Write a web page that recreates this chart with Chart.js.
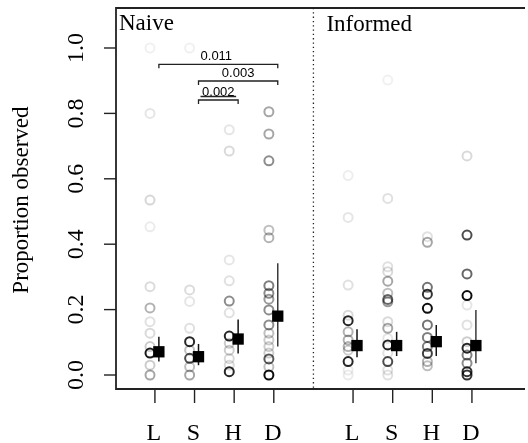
<!DOCTYPE html>
<html>
<head>
<meta charset="utf-8">
<script src="https://cdn.jsdelivr.net/npm/chart.js@4.4.1/dist/chart.umd.min.js"></script>
<style>
  html, body { margin: 0; padding: 0; background: #ffffff; }
  #wrap { width: 528px; height: 443px; position: relative; }
</style>
</head>
<body>
<div id="wrap"><canvas id="c" width="528" height="443"></canvas></div>
<script>
// ---------- data ----------
const categories = ['L', 'S', 'H', 'D', 'L', 'S', 'H', 'D'];
const catPositions = [1, 2, 3, 4, 6, 7, 8, 9];
const panelLabels = ['Naive', 'Informed'];
const yTicks = [0, 0.2, 0.4, 0.6, 0.8, 1.0];
const yTickLabels = ['0.0', '0.2', '0.4', '0.6', '0.8', '1.0'];
const yTitle = 'Proportion observed';

// individual proportions per group
const naiveL = [1.0, 0.80, 0.535, 0.453, 0.27, 0.205, 0.163, 0.128, 0.087, 0.067, 0.03, 0.0];
const naiveS = [1.0, 0.26, 0.225, 0.143, 0.102, 0.076, 0.051, 0.025, 0.0];
const naiveH = [0.75, 0.685, 0.352, 0.288, 0.226, 0.19, 0.119, 0.097, 0.076, 0.05, 0.03, 0.01];
const naiveD = [0.805, 0.737, 0.655, 0.443, 0.42, 0.273, 0.25, 0.232, 0.199, 0.153, 0.128, 0.107, 0.087, 0.067, 0.049, 0.025, 0.0];
const informedL = [0.61, 0.482, 0.275, 0.183, 0.166, 0.132, 0.107, 0.087, 0.076, 0.041, 0.015, 0.0];
const informedS = [0.902, 0.54, 0.331, 0.316, 0.287, 0.25, 0.231, 0.224, 0.163, 0.143, 0.112, 0.092, 0.067, 0.041, 0.015, 0.0];
const informedH = [0.423, 0.406, 0.268, 0.247, 0.204, 0.153, 0.115, 0.087, 0.066, 0.041, 0.028];
const informedD = [0.67, 0.428, 0.309, 0.243, 0.214, 0.153, 0.102, 0.082, 0.061, 0.036, 0.01, 0.0];

// relative weight of each individual (drives the grey shade of its circle)
const naiveL_w = [0.06, 0.1, 0.16, 0.08, 0.14, 0.3, 0.12, 0.15, 0.2, 0.9, 0.2, 0.35];
const naiveS_w = [0.06, 0.14, 0.1, 0.12, 0.85, 0.25, 0.7, 0.25, 0.35];
const naiveH_w = [0.1, 0.15, 0.1, 0.12, 0.45, 0.12, 0.85, 0.2, 0.2, 0.15, 0.15, 0.85];
const naiveD_w = [0.35, 0.35, 0.45, 0.25, 0.3, 0.5, 0.45, 0.4, 0.45, 0.45, 0.25, 0.2, 0.2, 0.2, 0.65, 0.25, 0.95];
const informedL_w = [0.07, 0.1, 0.12, 0.15, 0.85, 0.3, 0.3, 0.3, 0.2, 0.85, 0.08, 0.08];
const informedS_w = [0.06, 0.12, 0.12, 0.15, 0.35, 0.25, 0.6, 0.4, 0.15, 0.35, 0.1, 0.85, 0.12, 0.7, 0.12, 0.12];
const informedH_w = [0.12, 0.35, 0.55, 0.8, 0.95, 0.55, 0.5, 0.5, 0.75, 0.3, 0.25];
const informedD_w = [0.15, 0.7, 0.6, 0.95, 0.1, 0.12, 0.2, 0.85, 0.5, 0.45, 0.8, 0.8];

// group estimates with confidence intervals
const means = [0.071, 0.056, 0.11, 0.18, 0.09, 0.09, 0.102, 0.09];
const ciLow = [0.041, 0.03, 0.066, 0.087, 0.054, 0.058, 0.058, 0.036];
const ciHigh = [0.117, 0.095, 0.17, 0.342, 0.14, 0.132, 0.153, 0.199];

// pairwise comparisons (group indices into categories)
const compFrom = [0, 1, 1];
const compTo = [3, 3, 2];
const compLevel = [0.950, 0.899, 0.841];
const compLabel = ['0.011', '0.003', '0.002'];

// ---------- build datasets ----------
const groups = [naiveL, naiveS, naiveH, naiveD, informedL, informedS, informedH, informedD];
const groupW = [naiveL_w, naiveS_w, naiveH_w, naiveD_w, informedL_w, informedS_w, informedH_w, informedD_w];
const CIRCLE_DX = -0.124;
const MEAN_DX = 0.1;

const datasets = [];
// means (on top)
datasets.push({
  data: means.map((m, i) => ({ x: catPositions[i] + MEAN_DX, y: m })),
  pointStyle: 'rect',
  pointRadius: 8,
  backgroundColor: '#000',
  borderColor: '#000',
  borderWidth: 0,
  showLine: false,
  order: 0
});
// error bars
means.forEach((m, i) => {
  datasets.push({
    data: [{ x: catPositions[i] + MEAN_DX, y: ciLow[i] }, { x: catPositions[i] + MEAN_DX, y: ciHigh[i] }],
    showLine: true,
    borderColor: (i === 3 || i === 7) ? '#3a3a3a' : '#111',
    borderWidth: 1.5,
    pointRadius: 0,
    order: 1
  });
});
// individual circles
groups.forEach((g, gi) => {
  datasets.push({
    data: g.map(v => ({ x: catPositions[gi] + CIRCLE_DX, y: v })),
    pointStyle: 'circle',
    pointRadius: 4.5,
    borderWidth: 2,
    backgroundColor: 'rgba(0,0,0,0)',
    borderColor: groupW[gi].map(w => 'rgba(0,0,0,' + w + ')'),
    showLine: false,
    order: 2
  });
});

// ---------- custom drawing of axes / annotations ----------
const serif = '"Liberation Serif", "DejaVu Serif", serif';
const decor = {
  id: 'decor',
  afterDraw(chart) {
    const ctx = chart.ctx;
    const xs = chart.scales.x, ys = chart.scales.y;
    const a = chart.chartArea;
    ctx.save();
    ctx.strokeStyle = '#222';
    ctx.fillStyle = '#000';
    ctx.lineWidth = 1.8;
    // frame
    ctx.beginPath();
    ctx.moveTo(a.right + 5, a.top);
    ctx.lineTo(a.left, a.top);
    ctx.lineTo(a.left, a.bottom);
    ctx.lineTo(a.right + 5, a.bottom);
    ctx.stroke();

    // y ticks + labels
    ctx.lineWidth = 1.4;
    ctx.font = '24px ' + serif;
    yTicks.forEach((v, i) => {
      const py = ys.getPixelForValue(v);
      ctx.beginPath();
      ctx.moveTo(a.left - 12, py);
      ctx.lineTo(a.left, py);
      ctx.stroke();
      ctx.save();
      ctx.translate(83, py);
      ctx.rotate(-Math.PI / 2);
      ctx.textAlign = 'center';
      ctx.textBaseline = 'alphabetic';
      ctx.fillText(yTickLabels[i], 0, 0);
      ctx.restore();
    });
    // y title
    ctx.font = '23px ' + serif;
    ctx.save();
    ctx.translate(28, ys.getPixelForValue(0.535));
    ctx.rotate(-Math.PI / 2);
    ctx.textAlign = 'center';
    ctx.textBaseline = 'alphabetic';
    ctx.fillText(yTitle, 0, 0);
    ctx.restore();

    // x ticks + labels
    ctx.font = '24px ' + serif;
    categories.forEach((c, i) => {
      const px = xs.getPixelForValue(catPositions[i]);
      ctx.beginPath();
      ctx.moveTo(px, a.bottom);
      ctx.lineTo(px, a.bottom + 14);
      ctx.stroke();
      ctx.textAlign = 'center';
      ctx.textBaseline = 'alphabetic';
      ctx.fillText(c, px - 1, 440);
    });

    // panel divider (dotted)
    ctx.save();
    ctx.setLineDash([1.3, 3]);
    ctx.lineWidth = 1.3;
    const dx = xs.getPixelForValue(5);
    ctx.beginPath();
    ctx.moveTo(dx, a.top);
    ctx.lineTo(dx, a.bottom);
    ctx.stroke();
    ctx.restore();

    // panel labels
    ctx.font = '23px ' + serif;
    ctx.textAlign = 'left';
    ctx.fillText(panelLabels[0], a.left + 3, 30);
    ctx.fillText(panelLabels[1], xs.getPixelForValue(5) + 13, 31);

    // comparison brackets
    ctx.font = '13px "Liberation Sans", Arial, sans-serif';
    ctx.lineWidth = 1.3;
    compFrom.forEach((f, i) => {
      const x1 = xs.getPixelForValue(catPositions[f] + MEAN_DX);
      const x2 = xs.getPixelForValue(catPositions[compTo[i]] + MEAN_DX);
      const py = ys.getPixelForValue(compLevel[i]);
      ctx.beginPath();
      ctx.moveTo(x1, py + 4);
      ctx.lineTo(x1, py);
      ctx.lineTo(x2, py);
      ctx.lineTo(x2, py + 4);
      ctx.stroke();
      ctx.textAlign = 'center';
      const tx = (i === 0) ? (x1 + x2) / 2 - 2 : (x1 + x2) / 2;
      ctx.fillText(compLabel[i], tx, py - 4);
      if (i === 2) {
        ctx.beginPath();
        ctx.moveTo(x1 + 2, py - 3.5);
        ctx.lineTo(x2 - 2, py - 3.5);
        ctx.stroke();
      }
    });
    ctx.restore();
  }
};

new Chart(document.getElementById('c'), {
  type: 'scatter',
  data: { datasets },
  options: {
    responsive: false,
    animation: false,
    events: [],
    layout: { padding: { left: 116, top: 8, right: 0, bottom: 54 } },
    plugins: { legend: { display: false }, tooltip: { enabled: false } },
    scales: {
      x: { type: 'linear', min: 0.018, max: 10.213, display: false },
      y: { type: 'linear', min: -0.0428, max: 1.1223, display: false }
    }
  },
  plugins: [decor]
});
</script>
</body>
</html>
